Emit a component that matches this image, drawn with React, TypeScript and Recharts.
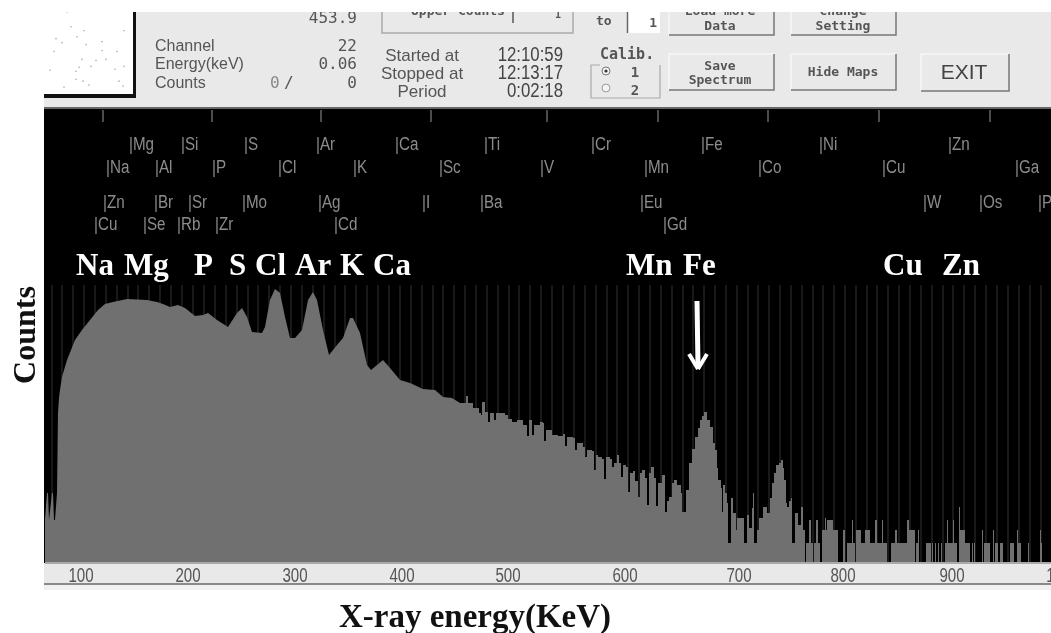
import { ComposedChart, Area, XAxis, YAxis, ReferenceLine, ReferenceDot, ScatterChart, Scatter } from 'recharts';

const SANS = '"Liberation Sans", sans-serif';
const MONO = '"DejaVu Sans Mono", monospace';
const SERIF = '"Liberation Serif", serif';

// [channel, counts]: channel = horizontal position along the spectrum, counts = bar height
const smoothPoints = [
  [0, 43], [2, 70], [3, 70], [4, 43], [7, 70], [8, 70], [9, 43], [10, 43], [12, 70], [13, 150], [14, 165], [15, 173], [17, 186],
  [22, 203], [30, 223], [37, 233], [45, 243], [53, 253], [60, 259], [68, 261], [82, 264], [102, 263], [112, 261], [118, 259],
  [125, 256], [133, 258], [140, 255], [150, 247], [158, 248], [163, 250], [172, 243], [183, 236], [192, 250], [197, 255],
  [202, 246], [207, 231], [217, 230], [220, 236], [225, 263], [230, 274], [235, 270], [240, 246], [245, 225], [250, 225],
  [257, 233], [263, 263], [268, 271], [272, 263], [278, 233], [284, 208], [292, 218], [298, 225], [305, 245], [308, 245],
  [315, 230], [322, 198], [326, 193], [332, 198], [338, 203], [345, 195], [355, 183], [365, 180], [378, 174], [390, 173],
  [398, 166], [407, 165], [415, 160],
];

const noisyPoints = [
  [415, 160], [421, 167], [423, 160], [428, 155], [434, 150], [436, 148], [437, 161], [440, 151], [443, 141], [445, 150],
  [449, 143], [451, 150], [460, 148], [463, 144], [467, 141], [472, 143], [478, 138], [482, 127], [484, 143], [487, 128],
  [489, 138], [495, 141], [498, 140], [499, 122], [501, 133], [507, 128], [513, 127], [518, 129], [520, 117], [522, 126],
  [528, 125], [530, 113], [532, 120], [538, 116], [540, 106], [542, 113], [547, 112], [549, 93], [551, 108], [553, 106],
  [557, 104], [559, 84], [561, 106], [565, 104], [567, 96], [569, 100], [572, 108], [574, 100], [576, 86], [578, 98],
  [581, 96], [583, 71], [585, 90], [588, 92], [590, 82], [593, 66], [595, 90], [597, 93], [600, 85], [602, 58], [604, 90],
  [606, 96], [609, 85], [611, 57], [613, 80], [617, 88], [620, 51], [622, 62], [624, 66], [627, 80], [629, 83], [632, 78],
  [636, 70], [637, 51], [639, 51], [641, 73], [644, 100], [647, 114], [650, 126], [653, 135], [655, 143], [657, 147],
  [659, 151], [662, 143], [665, 136], [668, 120], [670, 113], [672, 95], [673, 83], [676, 75], [677, 51], [678, 78],
  [680, 70], [682, 60], [683, 20], [685, 20], [686, 65], [688, 50], [691, 33], [692, 45], [698, 45], [699, 20], [701, 20],
  [702, 48], [704, 35], [707, 55], [708, 70], [709, 20], [711, 20], [712, 33], [714, 45], [718, 56], [722, 50], [725, 65],
  [727, 80], [729, 90], [731, 98], [734, 100], [736, 103], [738, 95], [739, 83], [741, 60], [742, 56], [744, 62], [746, 65],
  [747, 20], [749, 20], [750, 50], [753, 38], [756, 56], [758, 33], [760, 0], [761, 20], [764, 43], [766, 20], [768, 0],
  [769, 20], [771, 43], [773, 20], [775, 0], [777, 33], [780, 45], [781, 33], [782, 43], [788, 33], [793, 0], [798, 33],
  [800, 0], [802, 20], [807, 43], [808, 20], [810, 0], [811, 33], [816, 20], [820, 33], [825, 20], [830, 43], [832, 20],
  [837, 43], [838, 20], [842, 0], [846, 20], [850, 33], [852, 20], [862, 43], [864, 33], [870, 0], [871, 20], [873, 33],
  [874, 0], [881, 20], [886, 0], [887, 20], [888, 0], [890, 20], [891, 0], [893, 20], [894, 0], [896, 20], [897, 0],
  [900, 20], [902, 43], [903, 20], [908, 43], [909, 20], [912, 0], [914, 56], [915, 33], [920, 20], [925, 0], [927, 20],
  [928, 0], [929, 20], [930, 0], [937, 33], [938, 0], [939, 20], [945, 0], [948, 33], [949, 0], [950, 20], [953, 0],
  [955, 20], [958, 0], [965, 20], [969, 0], [972, 33], [973, 20], [976, 0], [983, 20], [984, 0], [995, 33], [996, 20],
  [997, 0], [1045, 0],
];

const streakChannels = [7, 17, 28, 39, 50, 61, 72, 83, 93, 104, 115, 126, 137, 148, 159, 170, 181, 192, 203, 213, 224, 235, 246, 257, 268, 279, 290, 300, 311, 322, 333, 344, 355, 366, 377, 388, 398, 409, 420, 431, 442, 453, 464, 474, 485, 496, 507, 518, 529, 540, 551, 562, 572, 583, 594, 605, 616, 627, 638, 648, 659, 670, 681, 692, 703, 713, 724, 735, 746, 757, 768, 778, 789, 800, 811, 822, 832, 843, 854, 865, 876, 887, 898, 908, 919, 930, 941, 952, 963, 974, 985, 996];

const axisTickChannels = [36, 143, 250, 357, 463, 580, 694, 798, 907, 1018];
const axisTickLabels = ['100', '200', '300', '400', '500', '600', '700', '800', '900', '1000'];
const topTickChannels = [58, 167, 276, 386, 502, 613, 723, 834, 945];

const row1Names = ['Mg', 'Si', 'S', 'Ar', 'Ca', 'Ti', 'Cr', 'Fe', 'Ni', 'Zn'];
const row1Channels = [84, 136, 199, 271, 350, 439, 546, 656, 774, 903];
const row2Names = ['Na', 'Al', 'P', 'Cl', 'K', 'Sc', 'V', 'Mn', 'Co', 'Cu', 'Ga'];
const row2Channels = [61, 110, 167, 233, 308, 394, 495, 599, 713, 837, 970];
const row3Names = ['Zn', 'Br', 'Sr', 'Mo', 'Ag', 'I', 'Ba', 'Eu', 'W', 'Os', 'Pt'];
const row3Channels = [58, 109, 143, 197, 273, 377, 435, 595, 878, 934, 993];
const row4Names = ['Cu', 'Se', 'Rb', 'Zr', 'Cd', 'Gd'];
const row4Channels = [49, 98, 132, 170, 289, 618];
const rowLevels = [413, 390, 355, 333];

const peakNames = ['Na', 'Mg', 'P', 'S', 'Cl', 'Ar', 'K', 'Ca', 'Mn', 'Fe', 'Cu', 'Zn'];
const peakChannels = [31, 79, 149, 184, 210, 250, 295, 328, 581, 638, 838, 897];
const peakLevel = 288;

const mapDotsX = [23, 27, 40, 80, 12, 18, 33, 42, 58, 10, 62, 52, 38, 35, 32, 47, 71, 80, 6, 32, 39, 45, 75, 79, 20, 58, 73];
const mapDotsY = [83, 68, 64, 64, 56, 52, 58, 50, 53, 43, 35, 34, 35, 27, 23, 28, 25, 28, 24, 15, 13, 9, 13, 8, 7, 44, 43];

const rows = [
  ...smoothPoints.map(([channel, v]) => ({ channel, smooth: v })),
  ...noisyPoints.map(([channel, v]) => ({ channel, noisy: v })),
];
const mapDots = mapDotsX.map((x, i) => ({ x, y: mapDotsY[i] }));

function Tag({ cx, cy, text }: any) {
  return (
    <text transform={`translate(${cx} ${cy}) scale(0.8 1)`} fill="#8c8c8c" fontSize={19} fontFamily={SANS}>{'|' + text}</text>
  );
}

function PeakName({ cx, cy, text }: any) {
  return (
    <text x={cx} y={cy} fill="#fff" fontSize={31} fontWeight="bold" fontFamily={SERIF}>{text}</text>
  );
}

function AxisTick({ x, payload }: any) {
  return (
    <text transform={`translate(${x} 582) scale(0.72 1)`} textAnchor="middle" fontSize={21} fontFamily={SANS} fill="#555">
      {axisTickLabels[axisTickChannels.indexOf(payload.value)]}
    </text>
  );
}

function Button({ x, y, w, h }: { x: number; y: number; w: number; h: number }) {
  return (
    <g fill="none" strokeWidth={1.5}>
      <path d={`M${x} ${y + h}V${y}H${x + w}`} stroke="#f6f6f6" />
      <path d={`M${x} ${y + h}H${x + w}V${y}`} stroke="#777" />
    </g>
  );
}

function Clock({ y, text }: { y: number; text: string }) {
  return (
    <text transform={`translate(563 ${y}) scale(0.8 1)`} textAnchor="end" fontSize={21} fontFamily={SANS} fill="#444">{text}</text>
  );
}

function GuiPanel() {
  const label = { fontFamily: SANS, fontSize: 16, fill: '#555' };
  const value = { fontFamily: MONO, fontSize: 16, fill: '#555', textAnchor: 'end' as const };
  const side = { fontFamily: SANS, fontSize: 17, fill: '#555', textAnchor: 'middle' as const };
  const mono = { fontFamily: MONO, fontSize: 13, fontWeight: 'bold', fill: '#555', textAnchor: 'middle' as const };
  return (
    <svg width={1051} height={110} style={{ position: 'absolute', left: 0, top: 0 }}>
      <rect x={44} y={12} width={1007} height={96} fill="#e9e9e9" />

      <text x={357} y={23} {...value}>453.9</text>
      <text x={155} y={51} {...label}>Channel</text>
      <text x={155} y={69} {...label}>Energy(keV)</text>
      <text x={155} y={88} {...label}>Counts</text>
      <text x={357} y={51} {...value}>22</text>
      <text x={357} y={69} {...value}>0.06</text>
      <text x={357} y={88} {...value}>0</text>
      <text x={270} y={88} {...value} textAnchor="start" fill="#888">0</text>
      <text x={284} y={88} {...value} textAnchor="start">/</text>

      <path d="M382 12V33H573V12" fill="none" stroke="#aaa" strokeWidth={1.5} />
      <text x={458} y={15} {...mono}>Upper Counts</text>
      <path d="M513 12V23" stroke="#555" strokeWidth={1.5} />
      <text x={558} y={18} {...mono} fontSize={10}>1</text>

      <text x={422} y={61} {...side}>Started at</text>
      <text x={422} y={79} {...side}>Stopped at</text>
      <text x={422} y={97} {...side}>Period</text>
      <Clock y={61} text="12:10:59" />
      <Clock y={79} text="12:13:17" />
      <Clock y={97} text="0:02:18" />

      <text x={596} y={25} {...mono} textAnchor="start">to</text>
      <rect x={627} y={12} width={33} height={21} fill="#fff" />
      <path d="M627.5 12V33" stroke="#666" strokeWidth={1.5} />
      <text x={657} y={27} {...mono} textAnchor="end">1</text>

      <path d="M600 65H591V98H660V65" fill="none" stroke="#aaa" strokeWidth={1.2} />
      <text x={600} y={59} {...mono} fontSize={15} textAnchor="start">Calib.</text>
      <circle cx={606} cy={71} r={4} fill="#f4f4f4" stroke="#777" />
      <circle cx={606} cy={71} r={1.6} fill="#333" />
      <circle cx={606} cy={88} r={4} fill="#f4f4f4" stroke="#999" />
      <text x={635} y={77} {...mono} fontSize={14}>1</text>
      <text x={635} y={95} {...mono} fontSize={14}>2</text>

      <Button x={669} y={5} w={105} h={30} />
      <text x={720} y={15} {...mono}>Load more</text>
      <text x={720} y={30} {...mono}>Data</text>
      <Button x={791} y={5} w={105} h={30} />
      <text x={843} y={15} {...mono}>change</text>
      <text x={843} y={30} {...mono}>Setting</text>
      <Button x={669} y={54} w={105} h={36} />
      <text x={720} y={70} {...mono}>Save</text>
      <text x={720} y={84} {...mono}>Spectrum</text>
      <Button x={791} y={54} w={105} h={36} />
      <text x={843} y={76} {...mono}>Hide Maps</text>
      <Button x={921} y={54} w={88} h={37} />
      <text x={964} y={79} fontFamily={SANS} fontSize={21} fill="#444" textAnchor="middle">EXIT</text>

      <rect x={0} y={0} width={1051} height={12} fill="#fff" />
      <rect x={44} y={107} width={1007} height={2} fill="#666" />
    </svg>
  );
}

export default function App() {
  return (
    <div style={{ position: 'absolute', left: 0, top: 0, width: 1051, height: 633, overflow: 'hidden', background: '#fff', filter: 'blur(0.6px)' }}>
      <GuiPanel />

      {/* sample map thumbnail at the top left of the window */}
      <div style={{ position: 'absolute', left: 44, top: 12, width: 89, height: 82, background: '#fff', borderRight: '3px solid #111', borderBottom: '4px solid #111' }}>
        <ScatterChart width={89} height={82} margin={{ top: 0, right: 0, bottom: 0, left: 0 }}>
          <XAxis type="number" dataKey="x" domain={[0, 89]} hide />
          <YAxis type="number" dataKey="y" domain={[0, 82]} hide />
          <Scatter data={mapDots} isAnimationActive={false} shape={(p: any) => <circle cx={p.cx} cy={p.cy} r={0.8} fill="#aaa" />} />
        </ScatterChart>
      </div>

      <div style={{ position: 'absolute', left: 44, top: 109, width: 1007, height: 454, background: '#000' }} />

      {/* axis strip below the spectrum */}
      <div style={{ position: 'absolute', left: 44, top: 563, width: 1007, height: 20, background: '#e9e9e9' }} />
      <div style={{ position: 'absolute', left: 44, top: 583, width: 1007, height: 2, background: '#8a8a8a' }} />
      <div style={{ position: 'absolute', left: 44, top: 585, width: 1007, height: 5, background: '#f1f1f1' }} />

      {/* faint channel streaks sit behind the spectrum, so they get their own layer */}
      <div style={{ position: 'absolute', left: 0, top: 0 }}>
        <ComposedChart width={1090} height={633} data={rows} margin={{ top: 110, right: 0, bottom: 0, left: 0 }}>
          <XAxis dataKey="channel" type="number" domain={[0, 1045]} height={70} tick={false} tickLine={false} axisLine={false} />
          <YAxis type="number" domain={[0, 453]} width={45} tick={false} tickLine={false} axisLine={false} />
          <Area dataKey="smooth" fill="none" stroke="none" dot={false} activeDot={false} isAnimationActive={false} />
          {streakChannels.map(c => (
            <ReferenceLine key={c} segment={[{ x: c, y: 0 }, { x: c, y: 278 }]} stroke="#333" strokeWidth={1} />
          ))}
        </ComposedChart>
      </div>

      <div style={{ position: 'absolute', left: 0, top: 0 }}>
        <ComposedChart width={1090} height={633} data={rows} margin={{ top: 110, right: 0, bottom: 0, left: 0 }}>
          <XAxis
            dataKey="channel"
            type="number"
            domain={[0, 1045]}
            ticks={axisTickChannels}
            height={70}
            interval={0}
            tickLine={false}
            axisLine={{ stroke: '#aaa', strokeWidth: 2 }}
            tick={<AxisTick />}
            label={{
              content: () => (
                <text x={475} y={627} textAnchor="middle" fontFamily={SERIF} fontWeight="bold" fontSize={33} fill="#111">
                  X-ray energy(KeV)
                </text>
              ),
            }}
          />
          <YAxis
            type="number"
            domain={[0, 453]}
            width={45}
            tick={false}
            tickLine={false}
            axisLine={false}
            label={{
              content: () => (
                <text transform="translate(35 335) rotate(-90)" textAnchor="middle" fontFamily={SERIF} fontWeight="bold" fontSize={32} fill="#111">
                  Counts
                </text>
              ),
            }}
          />

          <Area dataKey="smooth" type="linear" fill="#707070" fillOpacity={1} stroke="none" dot={false} activeDot={false} isAnimationActive={false} />
          <Area dataKey="noisy" type="stepAfter" fill="#707070" fillOpacity={1} stroke="none" dot={false} activeDot={false} isAnimationActive={false} />

          {topTickChannels.map(c => (
            <ReferenceLine key={c} segment={[{ x: c, y: 453 }, { x: c, y: 441 }]} stroke="#666" strokeWidth={1.5} />
          ))}

          {[row1Names, row2Names, row3Names, row4Names].map((names, r) =>
            names.map((name, i) => (
              <ReferenceDot
                key={`${r}-${name}`}
                x={[row1Channels, row2Channels, row3Channels, row4Channels][r][i]}
                y={rowLevels[r]}
                r={0}
                ifOverflow="visible"
                shape={(p: any) => <Tag cx={p.cx} cy={p.cy} text={name} />}
              />
            ))
          )}
          {peakNames.map((name, i) => (
            <ReferenceDot
              key={`peak-${name}`}
              x={peakChannels[i]}
              y={peakLevel}
              r={0}
              ifOverflow="visible"
              shape={(p: any) => <PeakName cx={p.cx} cy={p.cy} text={name} />}
            />
          ))}

          {/* arrow at the Fe peak */}
          <ReferenceLine segment={[{ x: 652, y: 262 }, { x: 653, y: 196 }]} stroke="#fff" strokeWidth={5} />
          <ReferenceLine segment={[{ x: 644, y: 209 }, { x: 653, y: 194 }]} stroke="#fff" strokeWidth={4} />
          <ReferenceLine segment={[{ x: 662, y: 209 }, { x: 653, y: 194 }]} stroke="#fff" strokeWidth={4} />
        </ComposedChart>
      </div>
    </div>
  );
}
